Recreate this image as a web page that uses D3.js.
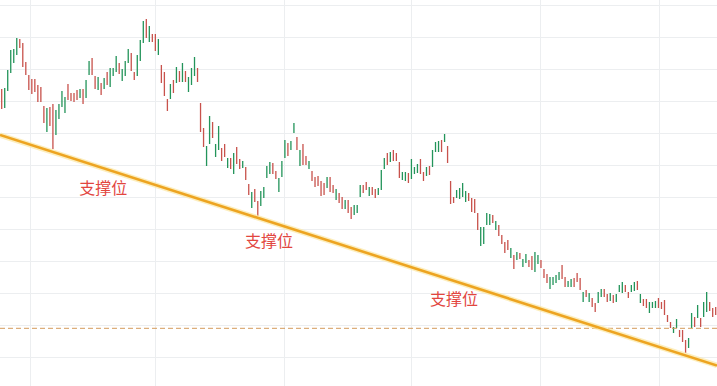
<html>
<head>
<meta charset="utf-8">
<script src="https://d3js.org/d3.v7.min.js"></script>
<style>
  body { margin: 0; background: #fff; }
  .grid line { stroke: #eceef0; shape-rendering: crispEdges; }
</style>
</head>
<body>
<script>
// bar highs / lows, one per session
const highs = [
  300,301,319,339,340,351,350,346,327,314,
  310,310,304,302,283,281,282,285,279,285,
  298,292,305,296,296,299,300,300,309,328,
  331,313,312,306,311,317,321,321,333,326,
  320,328,340,336,317,334,349,368,370,363,
  355,355,350,324,317,290,305,309,322,318,
  326,318,312,321,332,321,286,261,243,273,
  267,245,263,241,245,231,231,236,242,230,
  228,222,205,197,200,188,198,202,223,227,
  226,218,211,228,249,246,248,266,252,239,
  245,233,228,218,212,213,208,206,212,212,
  204,200,196,192,189,189,182,184,184,204,
  204,207,202,202,200,201,219,231,236,237,
  239,236,227,217,217,216,230,222,225,230,
  217,222,223,239,247,248,249,255,243,208,
  192,199,201,206,198,196,191,190,176,162,
  162,176,175,174,168,164,154,147,149,141,
  134,137,136,130,135,129,133,137,134,129,
  120,115,112,112,114,117,124,112,108,110,
  111,116,111,97,99,96,91,86,97,100,
  100,95,96,94,95,104,107,104,97,104,
  107,108,95,90,90,87,87,88,91,87,
  89,74,67,62,70,59,59,49,51,76,
  72,84,71,87,97,87,81,82
];
const lows = [
  280,281,298,316,326,334,341,322,314,299,
  295,297,287,287,266,257,263,240,254,270,
  282,276,289,288,287,289,291,285,291,314,
  314,300,299,294,300,304,302,313,317,315,
  308,313,326,318,309,313,328,346,351,347,
  347,338,334,306,293,278,290,296,306,307,
  307,307,297,304,313,307,257,242,223,245,
  251,232,239,228,232,221,220,215,225,220,
  221,209,194,181,187,173,183,191,211,215,
  215,210,197,212,231,233,239,256,239,223,
  224,224,220,208,202,203,193,194,201,197,
  196,189,186,180,180,176,170,174,176,192,
  196,199,193,194,191,194,199,220,224,227,
  228,228,211,209,208,206,210,215,216,215,
  208,213,214,222,237,237,237,247,226,185,
  186,191,190,192,187,188,177,176,159,143,
  145,164,164,166,159,153,145,136,139,131,
  120,129,130,122,126,122,119,117,125,121,
  111,106,100,104,106,109,110,102,102,102,
  102,107,99,87,92,87,82,77,86,92,
  92,87,88,86,87,97,96,97,91,97,
  98,99,86,83,81,76,81,81,81,80,
  74,67,61,56,61,52,47,36,41,61,
  62,71,62,72,77,78,72,74
];
// 1 = up session (green), 0 = down session (red)
const dirs = (
  "0111110000" + "0000010011" + "1100001011" + "0010101110" +
  "1110011101" + "0010001010" + "1011100011" + "0110010100" +
  "1001001111" + "0011101101" + "0010000010" + "0100100111" +
  "0010011101" + "0001101110" + "0101110100" + "0111100001" +
  "1110100001" + "0101100110" + "0011110011" + "0001010011" +
  "0010111001" + "1010011100" + "0001100011" + "01011000"
).split('');

const priceTicks = [32, 64, 96, 128, 160, 192, 224, 256, 288, 320, 352, 384];
const monthStarts = [9.3, 51, 93.8, 136, 178.8, 218.1];

// support line and horizontal level
const trendLine = [[-0.56, 254], [237.43, 23.5]];
const dashLevel = 60.7;

const labelText = '支撑位';
const labelAt = [[25.7, 195], [80.8, 142], [142.2, 84]];

const width = 717, height = 386;

let svg = d3.select('body')
  .append('svg')
  .attr('width', width)
  .attr('height', height)
  .style('display', 'block');

svg.append('rect').attr('width', width).attr('height', height).attr('fill', '#fff');

let x = d3.scaleLinear()
  .domain([0, highs.length - 1])
  .range([1.7, 715.7]);

let y = d3.scaleLinear()
  .domain([3, 389])
  .range([height, 0]);

// gridlines
let grid = svg.append('g').attr('class', 'grid');
grid.selectAll('.h')
  .data(priceTicks)
  .join('line')
  .attr('class', 'h')
  .attr('x1', 0).attr('x2', width)
  .attr('y1', d => Math.round(y(d)) + 0.5)
  .attr('y2', d => Math.round(y(d)) + 0.5);
grid.selectAll('.v')
  .data(monthStarts)
  .join('line')
  .attr('class', 'v')
  .attr('y1', 0).attr('y2', height)
  .attr('x1', d => Math.round(x(d)) + 0.5)
  .attr('x2', d => Math.round(x(d)) + 0.5);

// bars
svg.append('g')
  .selectAll('rect')
  .data(d3.range(highs.length))
  .join('rect')
  .attr('x', i => x(i) - 0.65)
  .attr('width', 1.3)
  .attr('y', i => y(highs[i]))
  .attr('height', i => y(lows[i]) - y(highs[i]))
  .attr('fill', i => dirs[i] === '1' ? '#23945a' : '#c8524c');

// dashed level
svg.append('line')
  .attr('x1', 0).attr('x2', width)
  .attr('y1', y(dashLevel)).attr('y2', y(dashLevel))
  .attr('stroke', '#d49a5a')
  .attr('stroke-width', 1)
  .attr('stroke-dasharray', '5,3');

// support trend line (soft glow underneath)
let line = d3.line().x(d => x(d[0])).y(d => y(d[1]));
svg.append('path')
  .attr('d', line(trendLine))
  .attr('fill', 'none')
  .attr('stroke', '#fbe7a3')
  .attr('stroke-width', 5.5)
  .attr('stroke-opacity', 0.7);
svg.append('path')
  .attr('d', line(trendLine))
  .attr('fill', 'none')
  .attr('stroke', '#eda421')
  .attr('stroke-width', 2.6);

svg.append('g')
  .selectAll('text')
  .data(labelAt)
  .join('text')
  .attr('x', d => x(d[0]))
  .attr('y', d => y(d[1]))
  .attr('fill', '#e2463f')
  .style('font-family', '"Noto Sans CJK SC", sans-serif')
  .style('font-size', '16px')
  .text(labelText);
</script>
</body>
</html>
